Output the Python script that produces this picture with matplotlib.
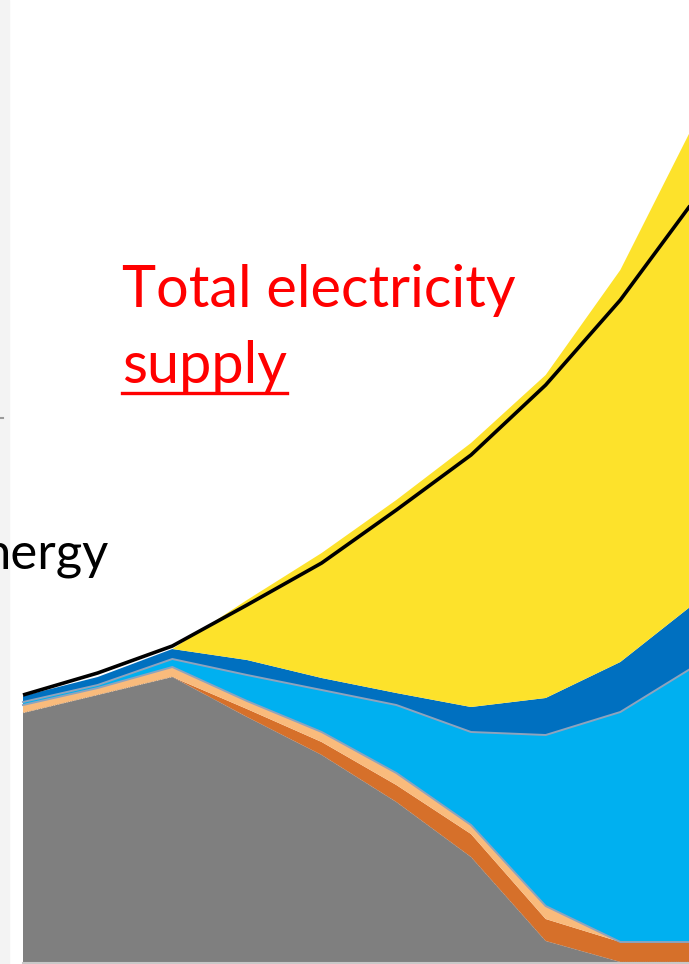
import numpy as np
import matplotlib.pyplot as plt
from matplotlib.lines import Line2D
from matplotlib.patches import Rectangle

# years on the x axis
years = [2005, 2010, 2015, 2020, 2025, 2030, 2035, 2040, 2045, 2050]

# layer thicknesses (arbitrary units, bottom to top)
coal = [249, 267, 285, 245, 207, 160, 105, 21, 0, 0]
biomass = [0, 0, 0, 8, 13, 17, 23, 22, 20, 20]
other = [8, 7, 10, 8, 10, 12, 9, 13, 0, 0]
wind = [3, 3, 8, 26, 42, 68, 93, 171, 230, 276]
solar = [6, 8, 10, 15, 12, 12, 25, 37, 50, 63]
extra = [0, 0, 0, 60, 125, 193, 264, 323, 392, 481]

# total electricity supply line
total = [267, 289, 316, 357, 399, 452, 507, 577, 662, 763]

colors = ['#7f7f7f', '#d6702a', '#f9bb7c', '#00b0f0', '#0070c0', '#fde22b']

W, H = 689, 964
fig = plt.figure(figsize=(W / 100, H / 100), dpi=100)
ax = fig.add_axes([0, 0, 1, 1])

# map so that 2005 sits at x=23px and 2050 at x=695px, baseline at 962px
px_per_year = (695 - 23) / 45
ax.set_xlim(2005 - 23 / px_per_year, 2005 + (W - 23) / px_per_year)
ax.set_ylim(-2, H - 2)
ax.axis('off')

layers = [coal, biomass, other, wind, solar, extra]
ax.stackplot(years, *layers, colors=colors, linewidth=0)

cum = np.cumsum(np.array(layers), axis=0)
# thin grey-blue borders around the light blue band
ax.plot(years, cum[2], color='#8ea3bd', lw=1.4)
ax.plot(years, cum[3], color='#8ea3bd', lw=1.4)
ax.plot(years, cum[0], color='#9a8a80', lw=0.6, ls=':')

ax.plot(years, total, color='black', lw=2.6, solid_capstyle='butt')
ax.axhline(-1, xmin=23 / W, color='#c8c8c8', lw=1.5)

# faint panel edge at the left
fig.add_artist(Rectangle((0, 0), 9 / W, 1, transform=fig.transFigure,
                         color='#f3f3f3', zorder=0))
fig.add_artist(Line2D([0, 3 / W], [1 - 418 / H, 1 - 418 / H], transform=fig.transFigure,
                      color='#9a9a9a', lw=1.5))

font = ['Lato', 'DejaVu Sans']
fig.text(122 / W, 1 - 307 / H, 'Total electricity', color='#ff0000',
         fontsize=41.5, family=font, va='baseline')
t = fig.text(122 / W, 1 - 383 / H, 'supply', color='#ff0000',
             fontsize=41.5, family=font, va='baseline')
# label cut by the left edge, as in the original crop
fig.text(109 / W, 1 - 568 / H, 'nergy', color='black',
         fontsize=36.5, family=font, va='baseline', ha='right')

fig.canvas.draw()
bb = t.get_window_extent()
fig.add_artist(Line2D([bb.x0 / W, bb.x1 / W], [1 - 393 / H, 1 - 393 / H],
                      transform=fig.transFigure, color='#ff0000', lw=2.4))

fig.savefig('out.png', dpi=100)
